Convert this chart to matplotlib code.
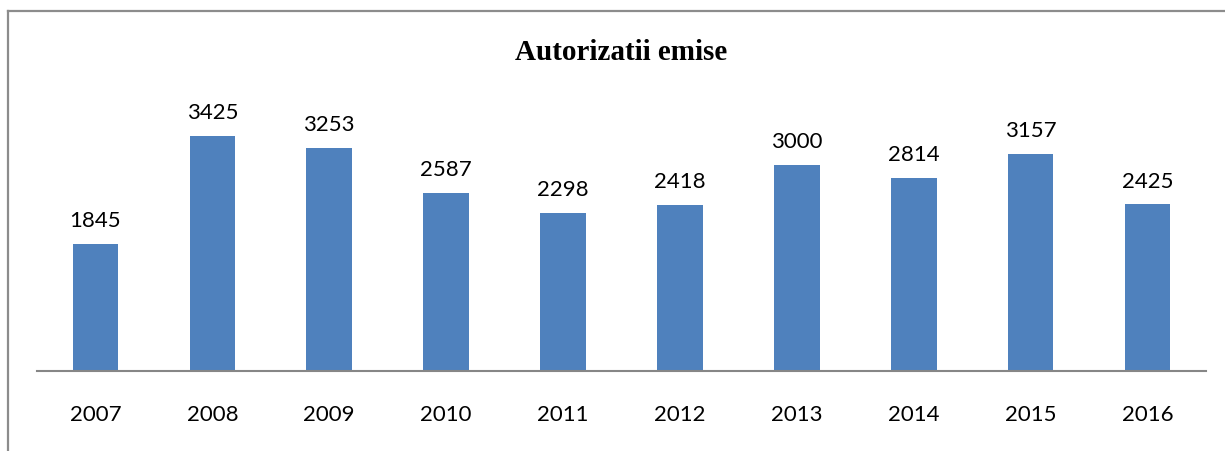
import matplotlib.pyplot as plt
from matplotlib.lines import Line2D

years = ['2007', '2008', '2009', '2010', '2011', '2012', '2013', '2014', '2015', '2016']
authorizations = [1845, 3425, 3253, 2587, 2298, 2418, 3000, 2814, 3157, 2425]

W, H = 1225, 452
fig = plt.figure(figsize=(W / 100, H / 100), dpi=100)
ax = fig.add_axes([37 / W, 1 - 372 / H, (1206 - 37) / W, 309 / H])

x = range(len(years))
ax.bar(x, authorizations, width=0.39, color='#4F81BD')
for xi, v in zip(x, authorizations):
    ax.annotate(str(v), (xi, v), xytext=(0, 10), textcoords='offset points',
                ha='center', va='bottom', fontsize=16, family='Lato')

ax.set_xlim(-0.5, len(years) - 0.5)
ax.set_ylim(0, 4500)
ax.set_xticks(list(x))
ax.set_xticklabels(years, fontsize=16, family='Lato')
ax.tick_params(axis='x', length=0, pad=24)
ax.set_yticks([])
for side in ['top', 'right', 'left']:
    ax.spines[side].set_visible(False)
ax.spines['bottom'].set_color('#868686')
ax.spines['bottom'].set_linewidth(1.5)

fig.text(621 / W, 1 - 52 / H, 'Autorizatii emise', ha='center', va='center',
         fontsize=21, fontweight='bold', family='Liberation Serif')

# outer chart frame (only top and left edges are visible)
fig.add_artist(Line2D([8 / W, 1], [1 - 12 / H, 1 - 12 / H], color='#8c8c8c', lw=1.6))
fig.add_artist(Line2D([8 / W, 8 / W], [0, 1 - 12 / H], color='#8c8c8c', lw=1.6))

fig.savefig('out.png', dpi=100)
